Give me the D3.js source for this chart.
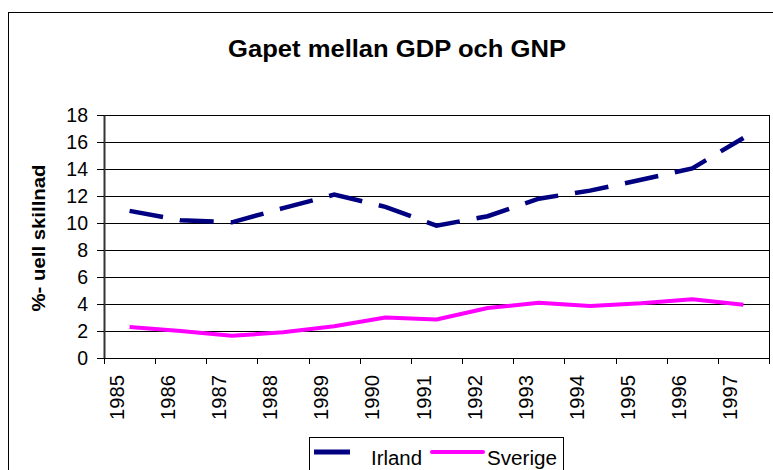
<!DOCTYPE html>
<html>
<head>
<meta charset="utf-8">
<script src="https://cdn.jsdelivr.net/npm/d3@7"></script>
<style>
  body { margin: 0; background: #fff; }
  svg { display: block; font-family: "Liberation Sans", Arial, sans-serif; }
</style>
</head>
<body>
<svg id="chart" width="773" height="470"></svg>
<script>
const years = ['1985','1986','1987','1988','1989','1990','1991','1992','1993','1994','1995','1996','1997']
const irland = [10.9, 10.2, 10.05, 11.1, 12.1, 11.2, 9.8, 10.5, 11.8, 12.4, 13.2, 14.05, 16.3]
const sverige = [2.3, 2.0, 1.65, 1.9, 2.35, 3.0, 2.85, 3.7, 4.1, 3.85, 4.05, 4.35, 3.95]
const yTicks = [0, 2, 4, 6, 8, 10, 12, 14, 16, 18]

const svg = d3.select('#chart')

const plot = { left: 104, right: 769, top: 115, bottom: 358 }

// outer chart frame
svg.append('rect')
  .attr('x', 8.5).attr('y', 12.5)
  .attr('width', 800).attr('height', 500)
  .attr('fill', 'none').attr('stroke', '#000')

svg.append('text')
  .attr('x', 397).attr('y', 57)
  .attr('text-anchor', 'middle')
  .attr('font-size', 23).attr('font-weight', 'bold')
  .attr('textLength', 338).attr('lengthAdjust', 'spacingAndGlyphs')
  .text('Gapet mellan GDP och GNP')

const x = d3.scaleBand().domain(years).range([plot.left, plot.right])
const y = d3.scaleLinear().domain([0, 18]).range([plot.bottom, plot.top])

// gridlines
svg.append('g')
  .selectAll('line')
  .data(yTicks.filter(d => d > 0))
  .join('line')
  .attr('x1', plot.left).attr('x2', plot.right)
  .attr('y1', d => Math.round(y(d)) + 0.5).attr('y2', d => Math.round(y(d)) + 0.5)
  .attr('stroke', '#000').attr('stroke-width', 1)

// right border of plot
svg.append('line')
  .attr('x1', plot.right + 0.5).attr('x2', plot.right + 0.5)
  .attr('y1', plot.top).attr('y2', plot.bottom)
  .attr('stroke', '#000')

// y axis
const yAxis = d3.axisLeft(y).tickValues(yTicks).tickSize(7).tickSizeOuter(0).tickPadding(9)
const yg = svg.append('g')
  .attr('transform', `translate(${plot.left},0)`)
  .call(yAxis)
yg.select('.domain').attr('stroke', '#333').attr('stroke-width', 2)
yg.selectAll('.tick line').attr('stroke', '#000')
yg.selectAll('.tick text').attr('font-size', 19.5).attr('fill', '#000')
  .attr('font-family', '"Liberation Sans", Arial, sans-serif')

// x axis: ticks at category boundaries
const bounds = years.map(d => x(d)).concat([plot.right])
svg.append('line')
  .attr('x1', plot.left).attr('x2', plot.right)
  .attr('y1', plot.bottom + 0.5).attr('y2', plot.bottom + 0.5)
  .attr('stroke', '#000')
svg.append('g')
  .selectAll('line')
  .data(bounds)
  .join('line')
  .attr('x1', d => Math.round(d) + 0.5).attr('x2', d => Math.round(d) + 0.5)
  .attr('y1', plot.bottom).attr('y2', plot.bottom + 6)
  .attr('stroke', '#000')

svg.append('g')
  .selectAll('text')
  .data(years)
  .join('text')
  .attr('transform', d => `translate(${x(d) + x.bandwidth() / 2 - 6},375) rotate(-90)`)
  .attr('text-anchor', 'end')
  .attr('font-size', 19.5)
  .attr('textLength', 45).attr('lengthAdjust', 'spacingAndGlyphs')
  .text(d => d)

// y axis title
svg.append('text')
  .attr('transform', 'translate(45,238) rotate(-90)')
  .attr('text-anchor', 'middle')
  .attr('font-size', 18).attr('font-weight', 'bold')
  .attr('textLength', 147).attr('lengthAdjust', 'spacingAndGlyphs')
  .text('%- uell skillnad')

// series
const line = d3.line()
  .x((d, i) => x(years[i]) + x.bandwidth() / 2)
  .y(d => y(d))

svg.append('path')
  .datum(sverige)
  .attr('d', line)
  .attr('fill', 'none')
  .attr('stroke', '#ff00ff').attr('stroke-width', 4)
  .attr('stroke-linejoin', 'round')

svg.append('path')
  .datum(irland)
  .attr('d', line)
  .attr('fill', 'none')
  .attr('stroke', '#000080').attr('stroke-width', 4.5)
  .attr('stroke-dasharray', '34,17')

// legend
const lg = svg.append('g')
lg.append('rect')
  .attr('x', 309.5).attr('y', 437.5)
  .attr('width', 254).attr('height', 40)
  .attr('fill', '#fff').attr('stroke', '#000')
lg.append('line')
  .attr('x1', 314).attr('x2', 350).attr('y1', 452).attr('y2', 452)
  .attr('stroke', '#000080').attr('stroke-width', 5)
lg.append('text')
  .attr('x', 371).attr('y', 465)
  .attr('font-size', 20)
  .attr('textLength', 51).attr('lengthAdjust', 'spacingAndGlyphs')
  .text('Irland')
lg.append('line')
  .attr('x1', 432).attr('x2', 483).attr('y1', 452).attr('y2', 452)
  .attr('stroke', '#ff00ff').attr('stroke-width', 4)
  .attr('stroke-linecap', 'round')
lg.append('text')
  .attr('x', 487).attr('y', 465)
  .attr('font-size', 20)
  .attr('textLength', 70).attr('lengthAdjust', 'spacingAndGlyphs')
  .text('Sverige')
</script>
</body>
</html>
